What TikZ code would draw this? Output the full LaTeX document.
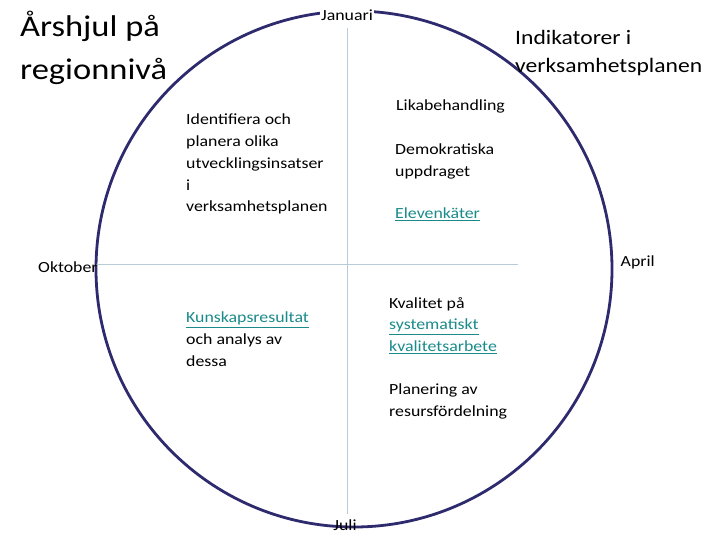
\documentclass[tikz,border=0pt]{standalone}
\usepackage{fontspec}
\setmainfont[FakeStretch=1.15]{Carlito}
\definecolor{link}{HTML}{1A8A8A}
\definecolor{axis}{HTML}{B8CCD8}
\definecolor{ring}{HTML}{2E2A6E}
\newcommand{\lnk}[1]{\textcolor{link}{\underline{#1}}}
\begin{document}
\begin{tikzpicture}[x=1pt,y=-1pt,
  txt/.style={anchor=north west,inner sep=0pt,align=left,font=\fontsize{15.5}{21.7}\selectfont},
  mon/.style={inner sep=0pt,font=\fontsize{15.5}{18}\selectfont}]
\useasboundingbox (0,0) rectangle (720,540);
\node[draw=ring,line width=2.8pt,circle,minimum size=516pt,inner sep=0pt] (c) at (354,269) {};
\coordinate (vt) at (347,28); \coordinate (vb) at (347,514);
\coordinate (hl) at (96,264); \coordinate (hr) at (518,264);
\draw[axis,line width=0.8pt] (vt) -- (vb);
\draw[axis,line width=0.8pt] (hl) -- (hr);
\node[anchor=north west,inner sep=0pt,align=left,font=\fontsize{30}{43}\selectfont] (title) at (20,11) {Årshjul på\\regionnivå};
\node[anchor=north west,inner sep=0pt,align=left,font=\fontsize{20.5}{28}\selectfont] (ind) at (515,30) {Indikatorer i\\verksamhetsplanen};
\node[mon,fill=white,inner sep=1pt] (jan) at (347,15) {Januari};
\node[mon,anchor=west] (okt) at (38,267) {Oktober};
\node[mon,anchor=east] (apr) at (655,262) {April};
\node[mon] (jul) at (345,525) {Juli};
\node[txt] (lika) at (396,100) {Likabehandling};
\node[txt] (demo) at (395,144) {Demokratiska\\uppdraget};
\node[txt] (elev) at (395,208) {\lnk{Elevenkäter}};
\node[txt] (ident) at (186,114) {Identifiera och\\planera  olika\\utvecklingsinsatser\\i\\verksamhetsplanen};
\node[txt] (kun) at (186,312) {\lnk{Kunskapsresultat}\\och analys av\\dessa};
\node[txt] (kval) at (389,297) {Kvalitet på\\\lnk{systematiskt}\\\lnk{kvalitetsarbete}};
\node[txt] (plan) at (389,384) {Planering av\\resursfördelning};
\end{tikzpicture}
\end{document}
